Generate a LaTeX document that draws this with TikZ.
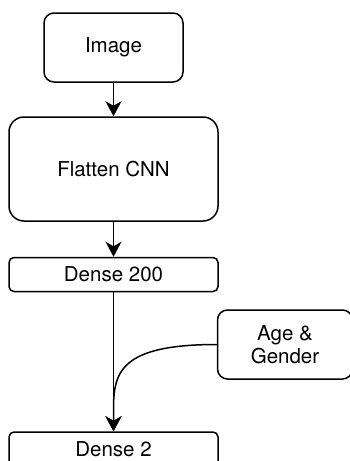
\documentclass[tikz,border=0pt]{standalone}
\usepackage{fontspec}
\setmainfont{TeX Gyre Heros}
\usetikzlibrary{arrows.meta}
\begin{document}
\begin{tikzpicture}[x=1pt,y=1pt,
  box/.style={draw, line width=1.5pt, fill=white, inner sep=0pt, align=center,
    font=\fontsize{20.5}{23}\selectfont},
  conn/.style={line width=1.5pt, -{Stealth[length=15pt,width=16pt,inset=4.5pt]}}]
\useasboundingbox (0,0) rectangle (350,-461);
\clip (0,0) rectangle (350,-461);
\node[box, rounded corners=10pt, minimum width=139pt, minimum height=69pt] (img) at (113.5,-47.5) {Image};
\node[box, rounded corners=15pt, minimum width=209pt, minimum height=104pt] (cnn) at (113.5,-169) {Flatten CNN};
\node[box, rounded corners=5pt, minimum width=209pt, minimum height=34pt] (d200) at (113.5,-274.5) {Dense 200};
\node[box, rounded corners=10pt, minimum width=135pt, minimum height=69pt] (age) at (285,-344.5) {Age \&\\Gender};
\node[box, rounded corners=5pt, minimum width=209pt, minimum height=35pt] (d2) at (113.5,-449.5) {Dense 2};
\coordinate (bend) at (113.5,-410);
\draw[conn] (img) -- (cnn);
\draw[conn] (cnn) -- (d200);
\draw[conn] (d200) -- (d2);
\draw[conn] (age.west) .. controls (119,-344.5) and (113.5,-373) .. (bend) -- (d2.north);
\end{tikzpicture}
\end{document}
